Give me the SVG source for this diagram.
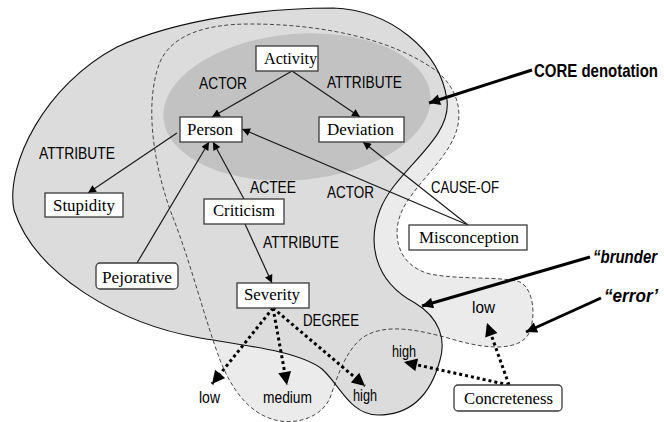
<svg xmlns="http://www.w3.org/2000/svg" width="664" height="422" viewBox="0 0 664 422">
<style>
.node rect{fill:#fff;stroke:#3a3a3a;stroke-width:1.3}
.node text{font-family:"Liberation Sans",Arial,sans-serif;font-family:"Liberation Serif","Times New Roman",serif;font-size:16px;fill:#000}
.lbl{font-family:"Liberation Sans",Arial,sans-serif;font-size:16px;fill:#000}
.big{font-family:"Liberation Sans",Arial,sans-serif;font-size:15px;font-weight:bold;fill:#000}
.edge{stroke:#1a1a1a;stroke-width:1.2;fill:none;marker-end:url(#ah)}
.dot{stroke:#000;stroke-width:3;stroke-dasharray:3 3;fill:none;marker-end:url(#dh)}
.ptr{stroke:#000;stroke-width:3;fill:none;marker-end:url(#ph)}
</style>
<defs>
<marker id="ah" viewBox="0 0 10 10" refX="10" refY="5" markerUnits="userSpaceOnUse" markerWidth="10" markerHeight="8" orient="auto"><path d="M0,0L10,5L0,10z" fill="#000"/></marker>
<marker id="dh" viewBox="0 0 10 10" refX="10" refY="5" markerUnits="userSpaceOnUse" markerWidth="15" markerHeight="13" orient="auto"><path d="M0,0L10,5L0,10z" fill="#000"/></marker>
<marker id="ph" viewBox="0 0 10 10" refX="10" refY="5" markerUnits="userSpaceOnUse" markerWidth="14" markerHeight="11" orient="auto"><path d="M0,0L10,5L0,10z" fill="#000"/></marker>
</defs>
<g id="regions">
<path id="error-fill" d="M172,215 C155,170 143,105 160,62 C172,35 205,24 250,24 C320,24 390,38 435,70 C455,85 465,110 455,135 C445,160 420,180 405,205 C390,230 395,265 430,274 C460,280 500,276 520,282 C535,290 536,320 528,335 C518,350 490,350 455,340 C420,330 385,322 362,338 C345,352 338,375 330,398 C322,416 300,424 280,421 C250,416 232,390 220,360 C205,320 190,260 172,215Z" fill="#ebebeb"/>
<path id="blunder-fill" d="M333,8 C390,10 440,50 447,100 C452,140 395,170 380,210 C368,240 372,280 415,303 C440,318 446,340 440,360 C432,390 415,415 378,415 C350,415 340,385 322,369 C300,352 250,346 200,338 C120,324 35,275 14,210 C5,165 45,85 117,47 C180,18 270,8 333,8Z" fill="#dcdcdc"/>
<ellipse id="core" cx="297" cy="107" rx="134" ry="73" transform="rotate(-5 297 107)" fill="#c2c2c2"/>
<path d="M172,215 C155,170 143,105 160,62 C172,35 205,24 250,24 C320,24 390,38 435,70 C455,85 465,110 455,135 C445,160 420,180 405,205 C390,230 395,265 430,274 C460,280 500,276 520,282 C535,290 536,320 528,335 C518,350 490,350 455,340 C420,330 385,322 362,338 C345,352 338,375 330,398 C322,416 300,424 280,421 C250,416 232,390 220,360 C205,320 190,260 172,215Z" fill="none" stroke="#333" stroke-width="0.9" stroke-dasharray="4 2.5"/>
<path d="M333,8 C390,10 440,50 447,100 C452,140 395,170 380,210 C368,240 372,280 415,303 C440,318 446,340 440,360 C432,390 415,415 378,415 C350,415 340,385 322,369 C300,352 250,346 200,338 C120,324 35,275 14,210 C5,165 45,85 117,47 C180,18 270,8 333,8Z" fill="none" stroke="#111" stroke-width="1.1"/>
</g>
<g id="connectors">
<path class="edge" d="M292,71L212,117"/>
<path class="edge" d="M292,71L360,117"/>
<path class="edge" d="M177,133L88,193"/>
<path class="edge" d="M244,199L213,142"/>
<path class="edge" d="M137,263L209,142"/>
<path class="edge" d="M245,224L272,283"/>
<path class="edge" d="M468,225L242,129"/>
<path class="edge" d="M468,225L363,142"/>
<path class="dot" d="M273,308L212,384"/>
<path class="dot" d="M273,308L287,385"/>
<path class="dot" d="M273,308L365,386"/>
<path class="dot" d="M509,385L404,362"/>
<path class="dot" d="M509,385L487,323"/>
<path class="ptr" d="M532,70L429,103"/>
<path class="ptr" d="M590,257L422,306"/>
<path class="ptr" d="M601,298L526,332"/>
</g>
<g id="labels">
<text class="lbl" x="199" y="89" textLength="48" lengthAdjust="spacingAndGlyphs">ACTOR</text>
<text class="lbl" x="327" y="88" textLength="75" lengthAdjust="spacingAndGlyphs">ATTRIBUTE</text>
<text class="lbl" x="39" y="159" textLength="76" lengthAdjust="spacingAndGlyphs">ATTRIBUTE</text>
<text class="lbl" x="250" y="193" textLength="46" lengthAdjust="spacingAndGlyphs">ACTEE</text>
<text class="lbl" x="327" y="198" textLength="47" lengthAdjust="spacingAndGlyphs">ACTOR</text>
<text class="lbl" x="431" y="193" textLength="68" lengthAdjust="spacingAndGlyphs">CAUSE-OF</text>
<text class="lbl" x="263" y="248" textLength="76" lengthAdjust="spacingAndGlyphs">ATTRIBUTE</text>
<text class="lbl" x="303" y="326" textLength="56" lengthAdjust="spacingAndGlyphs">DEGREE</text>
<text class="lbl" x="199" y="403" textLength="21" lengthAdjust="spacingAndGlyphs">low</text>
<text class="lbl" x="263" y="403" textLength="49" lengthAdjust="spacingAndGlyphs">medium</text>
<text class="lbl" x="353" y="401" textLength="24" lengthAdjust="spacingAndGlyphs">high</text>
<text class="lbl" x="392" y="357" textLength="24" lengthAdjust="spacingAndGlyphs">high</text>
<text class="lbl" x="472" y="313" textLength="23" lengthAdjust="spacingAndGlyphs">low</text>
<text class="big" transform="translate(534,77) scale(1,1.2)" x="0" y="0">CORE denotation</text>
<text class="big" transform="translate(593,263) scale(1,1.2)" x="0" y="0" font-style="italic">“brunder</text>
<text class="big" transform="translate(604,302) scale(1,1.2)" x="0" y="0" font-style="italic" textLength="54" lengthAdjust="spacingAndGlyphs">“error’</text>
</g>
<g id="activity" class="node"><rect x="256" y="46" width="62" height="25"/><text x="264" y="64" textLength="53" lengthAdjust="spacingAndGlyphs">Activity</text></g>
<g id="person" class="node"><rect x="180" y="117" width="62" height="25"/><text x="187" y="135" textLength="46" lengthAdjust="spacingAndGlyphs">Person</text></g>
<g id="deviation" class="node"><rect x="319" y="117" width="85" height="25"/><text x="327" y="135" textLength="67" lengthAdjust="spacingAndGlyphs">Deviation</text></g>
<g id="stupidity" class="node"><rect x="45" y="193" width="78" height="24"/><text x="53" y="211" textLength="62" lengthAdjust="spacingAndGlyphs">Stupidity</text></g>
<g id="criticism" class="node"><rect x="204" y="199" width="80" height="25"/><text x="213" y="216" textLength="62" lengthAdjust="spacingAndGlyphs">Criticism</text></g>
<g id="misconception" class="node"><rect x="409" y="225" width="118" height="25"/><text x="419" y="243" textLength="100" lengthAdjust="spacingAndGlyphs">Misconception</text></g>
<g id="pejorative" class="node"><rect x="96" y="263" width="82" height="26" rx="4"/><text x="102" y="283" textLength="70" lengthAdjust="spacingAndGlyphs">Pejorative</text></g>
<g id="severity" class="node"><rect x="237" y="283" width="72" height="25"/><text x="244" y="300" textLength="56" lengthAdjust="spacingAndGlyphs">Severity</text></g>
<g id="concreteness" class="node"><rect x="454" y="385" width="108" height="26" rx="4"/><text x="464" y="404" textLength="89" lengthAdjust="spacingAndGlyphs">Concreteness</text></g>
</svg>
